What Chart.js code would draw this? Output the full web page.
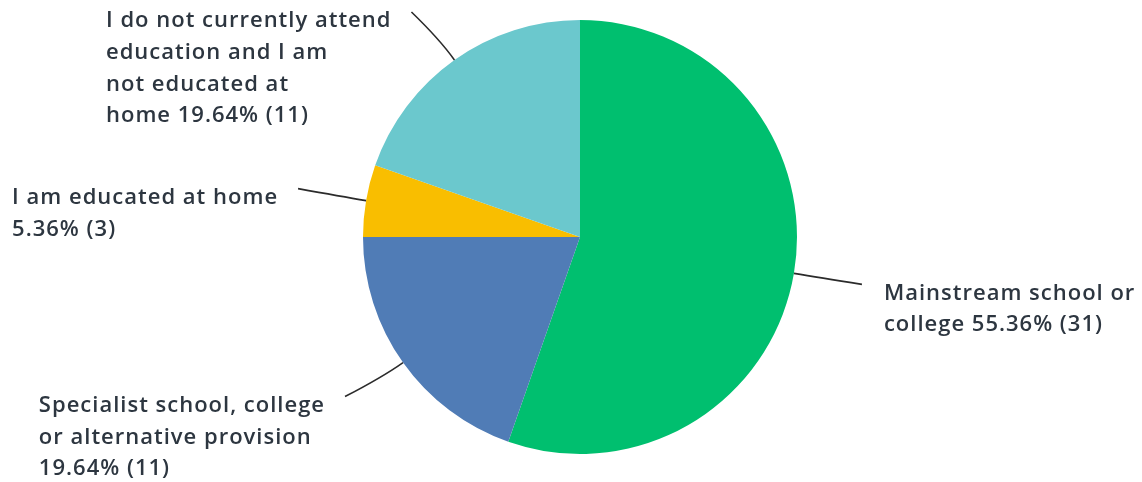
<!DOCTYPE html>
<html>
<head>
<meta charset="utf-8">
<script src="https://cdn.jsdelivr.net/npm/chart.js@4/dist/chart.umd.min.js"></script>
<style>
  html, body { margin: 0; padding: 0; background: #fff; }
  #wrap { width: 1142px; height: 482px; position: relative; }
</style>
</head>
<body>
<div id="wrap"><canvas id="pieChart"></canvas></div>
<script>
// Answer categories, clockwise from the top
var categories = [
  "Mainstream school or college",
  "Specialist school, college or alternative provision",
  "I am educated at home",
  "I do not currently attend education and I am not educated at home"
];
var percents = [55.36, 19.64, 5.36, 19.64];
var counts = [31, 11, 3, 11];
var colors = ["#00BF6F", "#507CB6", "#F9BE00", "#6BC8CD"];

// wrapped label text, {v} is replaced with "pct% (count)"
var labelLines = [
  ["Mainstream school or", "college {v}"],
  ["Specialist school, college", "or alternative provision", "{v}"],
  ["I am educated at home", "{v}"],
  ["I do not currently attend", "education and I am", "not educated at", "home {v}"]
];

// leader line end, relative to the slice's outer mid point
var leaderOffsets = [[68, 11], [-58, 34], [-68, -12], [-43, -48]];

var calloutPlugin = {
  id: "callouts",
  afterDatasetsDraw: function (chart) {
    var ctx = chart.ctx;
    var meta = chart.getDatasetMeta(0);
    ctx.save();
    ctx.font = "600 22px 'Open Sans'";
    ctx.letterSpacing = "1px";
    ctx.textBaseline = "middle";
    meta.data.forEach(function (arc, i) {
      var mid = (arc.startAngle + arc.endAngle) / 2;
      var dx = Math.cos(mid), dy = Math.sin(mid);
      var sx = arc.x + arc.outerRadius * dx;
      var sy = arc.y + arc.outerRadius * dy;
      var ex = sx + leaderOffsets[i][0];
      var ey = sy + leaderOffsets[i][1];
      var cx = sx + dx * 25, cy = sy + dy * 25;
      ctx.beginPath();
      ctx.moveTo(sx, sy);
      ctx.quadraticCurveTo(cx, cy, ex, ey);
      ctx.strokeStyle = "#2b2b2b";
      ctx.lineWidth = 1.6;
      ctx.stroke();

      var v = percents[i].toFixed(2) + "% (" + counts[i] + ")";
      var lines = labelLines[i].map(function (l) { return l.replace("{v}", v); });
      var w = 0;
      lines.forEach(function (l) { w = Math.max(w, ctx.measureText(l).width); });
      var left = ex > arc.x ? ex + 22 : ex - 20 - w;
      ctx.fillStyle = "#2d3640";
      ctx.textAlign = "left";
      lines.forEach(function (l, k) {
        ctx.fillText(l, left, ey + 9 + k * 31.7);
      });
    });
    ctx.restore();
  }
};

new Chart(document.getElementById("pieChart"), {
  type: "pie",
  data: {
    labels: categories,
    datasets: [{
      data: percents,
      backgroundColor: colors,
      borderWidth: 0
    }]
  },
  options: {
    responsive: true,
    maintainAspectRatio: false,
    animation: false,
    layout: { padding: { top: 20, bottom: 28, left: 363, right: 345 } },
    plugins: {
      legend: { display: false },
      tooltip: { enabled: false }
    }
  },
  plugins: [calloutPlugin]
});
</script>
</body>
</html>
